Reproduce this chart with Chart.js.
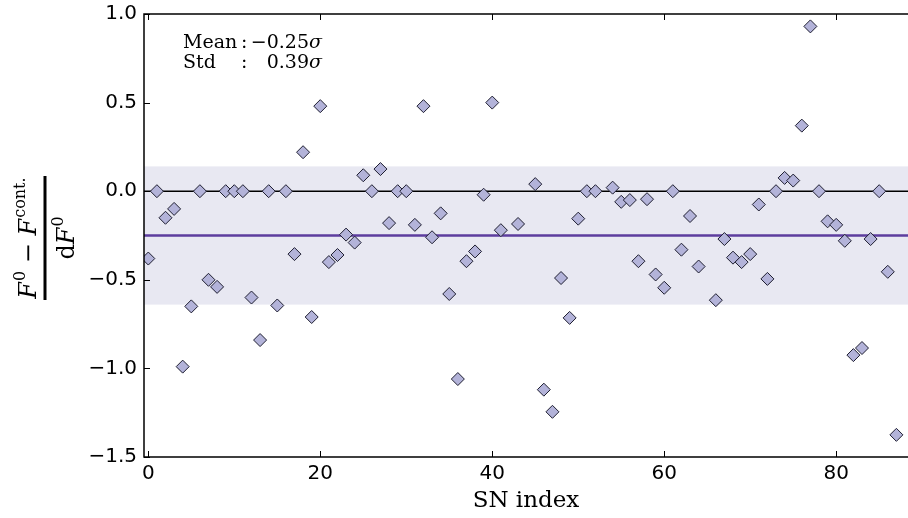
<!DOCTYPE html>
<html>
<head>
<meta charset="utf-8">
<script src="https://cdn.jsdelivr.net/npm/chart.js@4/dist/chart.umd.min.js"></script>
<style>
  html, body { margin: 0; padding: 0; background: #fff; }
  #wrap { width: 908px; height: 518px; }
</style>
</head>
<body>
<div id="wrap"><canvas id="snChart" width="908" height="518"></canvas></div>
<script>
// SN index 0..87, null where no point is plotted
const snIndex = [
  0, 1, 2, 3, 4, 5, 6, 7, 8, 9, 10, 11, 12, 13, 14, 15, 16, 17, 18, 19,
  20, 21, 22, 23, 24, 25, 26, 27, 28, 29, 30, 31, 32, 33, 34, 35, 36, 37, 38, 39,
  40, 41, 42, 43, 44, 45, 46, 47, 48, 49, 50, 51, 52, 53, 54, 55, 56, 57, 58, 59,
  60, 61, 62, 63, 64, 65, 66, 67, 68, 69, 70, 71, 72, 73, 74, 75, 76, 77, 78, 79,
  80, 81, 82, 83, 84, 85, 86, 87
];
const residual = [
  -0.38, 0.00, -0.15, -0.10, -0.99, -0.65, 0.00, -0.50, -0.54, 0.00,
  0.00, 0.00, -0.60, -0.84, 0.00, -0.645, 0.00, -0.355, 0.22, -0.71,
  0.48, -0.40, -0.36, -0.245, -0.29, 0.09, 0.00, 0.125, -0.18, 0.00,
  0.00, -0.19, 0.48, -0.26, -0.125, -0.58, -1.06, -0.395, -0.34, -0.02,
  0.50, -0.22, null, -0.185, null, 0.04, -1.12, -1.245, -0.49, -0.715,
  -0.155, 0.00, 0.00, null, 0.02, -0.06, -0.05, -0.395, -0.045, -0.47,
  -0.545, 0.00, -0.33, -0.14, -0.425, null, -0.615, -0.27, -0.375, -0.40,
  -0.355, -0.075, -0.495, 0.00, 0.075, 0.06, 0.37, 0.93, 0.00, -0.17,
  -0.19, -0.28, -0.925, -0.885, -0.27, 0.00, -0.455, -1.375
];
const meanValue = -0.25;
const stdValue = 0.39;
const xTicks = [0, 20, 40, 60, 80];
const yTicks = [-1.5, -1.0, -0.5, 0.0, 0.5, 1.0];

const points = snIndex
  .map((x, i) => ({ x: x, y: residual[i] }))
  .filter(p => p.y !== null);

function fmt(v) {
  return (v < 0 ? '\u2212' : '') + Math.abs(v).toFixed(1);
}

// draws a run of text pieces, each with its own font and vertical offset
function drawPieces(ctx, pieces, x, y) {
  let cx = x;
  pieces.forEach(p => {
    ctx.font = p.f;
    ctx.fillText(p.t, cx, y + (p.dy || 0));
    cx += ctx.measureText(p.t).width + (p.gap || 0);
  });
  return cx;
}

function piecesWidth(ctx, pieces) {
  let w = 0;
  pieces.forEach(p => {
    ctx.font = p.f;
    w += ctx.measureText(p.t).width + (p.gap || 0);
  });
  return w;
}

const serif = '"DejaVu Serif", "Liberation Serif", serif';

function drawYLabel(ctx, cx, cy) {
  const big = 'italic 24px ' + serif;
  const up = '24px ' + serif;
  const sup = '16px ' + serif;
  const num = [
    { t: 'F', f: big, gap: 1 },
    { t: '0', f: sup, dy: -11 },
    { t: ' \u2212 ', f: up },
    { t: 'F', f: big, gap: 1 },
    { t: 'cont.', f: sup, dy: -11 }
  ];
  const den = [
    { t: 'd', f: up },
    { t: 'F', f: big, gap: 1 },
    { t: '0', f: sup, dy: -11 }
  ];
  ctx.save();
  ctx.translate(cx, cy);
  ctx.rotate(-Math.PI / 2);
  ctx.fillStyle = '#000';
  ctx.textBaseline = 'alphabetic';
  const nw = piecesWidth(ctx, num);
  drawPieces(ctx, num, -nw / 2, -9);
  ctx.fillRect(-62, -1.5, 124, 3);
  const dw = piecesWidth(ctx, den);
  drawPieces(ctx, den, -dw / 2, 29);
  ctx.restore();
}

const decor = {
  id: 'decor',
  beforeDatasetsDraw(chart) {
    const ctx = chart.ctx;
    const ys = chart.scales.y;
    const a = chart.chartArea;
    ctx.save();
    // +-1 sigma band
    const yTop = ys.getPixelForValue(meanValue + stdValue);
    const yBot = ys.getPixelForValue(meanValue - stdValue);
    ctx.fillStyle = '#e8e8f2';
    ctx.fillRect(a.left, yTop, a.right - a.left, yBot - yTop);
    // zero line
    ctx.strokeStyle = '#000';
    ctx.lineWidth = 1.5;
    ctx.beginPath();
    ctx.moveTo(a.left, ys.getPixelForValue(0));
    ctx.lineTo(a.right, ys.getPixelForValue(0));
    ctx.stroke();
    // mean line
    ctx.strokeStyle = '#5d3d9e';
    ctx.lineWidth = 2.5;
    ctx.beginPath();
    ctx.moveTo(a.left, ys.getPixelForValue(meanValue));
    ctx.lineTo(a.right, ys.getPixelForValue(meanValue));
    ctx.stroke();
    ctx.restore();
  },
  afterDraw(chart) {
    const ctx = chart.ctx;
    const xs = chart.scales.x, ys = chart.scales.y;
    const a = chart.chartArea;
    ctx.save();
    // spines
    ctx.strokeStyle = '#000';
    ctx.lineWidth = 1.5;
    ctx.beginPath();
    ctx.moveTo(a.right + 2, a.top);
    ctx.lineTo(a.left, a.top);
    ctx.lineTo(a.left, a.bottom);
    ctx.lineTo(a.right + 2, a.bottom);
    ctx.stroke();
    // inward ticks
    ctx.lineWidth = 1;
    ctx.beginPath();
    xTicks.forEach(v => {
      const px = Math.round(xs.getPixelForValue(v)) + 0.5;
      ctx.moveTo(px, a.bottom);
      ctx.lineTo(px, a.bottom - 6);
      ctx.moveTo(px, a.top);
      ctx.lineTo(px, a.top + 6);
    });
    yTicks.forEach(v => {
      const py = Math.round(ys.getPixelForValue(v)) + 0.5;
      ctx.moveTo(a.left, py);
      ctx.lineTo(a.left + 6, py);
    });
    ctx.stroke();
    // statistics annotation
    ctx.fillStyle = '#000';
    ctx.textBaseline = 'alphabetic';
    const f = '19px ' + serif;
    const fi = 'italic 19px ' + serif;
    const meanTxt = meanValue.toFixed(2).replace('-', '\u2212');
    const stdTxt = stdValue.toFixed(2);
    ctx.font = f;
    const colonX = 241;
    ctx.fillText('Mean', 183, 48);
    ctx.fillText('Std', 183, 68);
    ctx.fillText(':', colonX, 48);
    ctx.fillText(':', colonX, 68);
    const valEnd = 322;
    const sw = piecesWidth(ctx, [{ t: stdTxt, f: f }, { t: '\u03c3', f: fi }]);
    const mw = piecesWidth(ctx, [{ t: meanTxt, f: f }, { t: '\u03c3', f: fi }]);
    drawPieces(ctx, [{ t: meanTxt, f: f }, { t: '\u03c3', f: fi }], valEnd - mw, 48);
    drawPieces(ctx, [{ t: stdTxt, f: f }, { t: '\u03c3', f: fi }], valEnd - sw, 68);
    // y axis label
    drawYLabel(ctx, 45, 238);
    ctx.restore();
  }
};

new Chart(document.getElementById('snChart'), {
  type: 'scatter',
  data: {
    datasets: [{
      data: points,
      pointStyle: 'rectRot',
      pointRadius: 6.5,
      pointHoverRadius: 6.5,
      backgroundColor: '#b3b3d9',
      borderColor: '#1e1e30',
      borderWidth: 1
    }]
  },
  options: {
    responsive: false,
    animation: false,
    layout: { autoPadding: false, padding: { top: 14, right: 0, left: 0, bottom: 0 } },
    plugins: { legend: { display: false }, tooltip: { enabled: false } },
    scales: {
      x: {
        type: 'linear',
        min: -0.5,
        max: 88.35,
        afterBuildTicks: s => { s.ticks = xTicks.map(v => ({ value: v })); },
        afterFit: s => { s.height = 61; s.paddingLeft = 0; s.paddingRight = 0; },
        grid: { display: false, drawTicks: false },
        border: { display: false },
        ticks: {
          color: '#000',
          padding: 5,
          maxRotation: 0,
          font: { family: '"DejaVu Sans"', size: 20 }
        },
        title: {
          display: true,
          text: 'SN index',
          color: '#000',
          padding: { top: 0, bottom: 3 },
          font: { family: '"DejaVu Serif"', size: 23 }
        }
      },
      y: {
        min: -1.5,
        max: 1.0,
        afterBuildTicks: s => { s.ticks = yTicks.map(v => ({ value: v })); },
        afterFit: s => { s.width = 144; s.paddingTop = 0; s.paddingBottom = 0; },
        grid: { display: false, drawTicks: false },
        border: { display: false },
        ticks: {
          color: '#000',
          padding: 7,
          font: { family: '"DejaVu Sans"', size: 20 },
          callback: v => fmt(v)
        }
      }
    }
  },
  plugins: [decor]
});
</script>
</body>
</html>
